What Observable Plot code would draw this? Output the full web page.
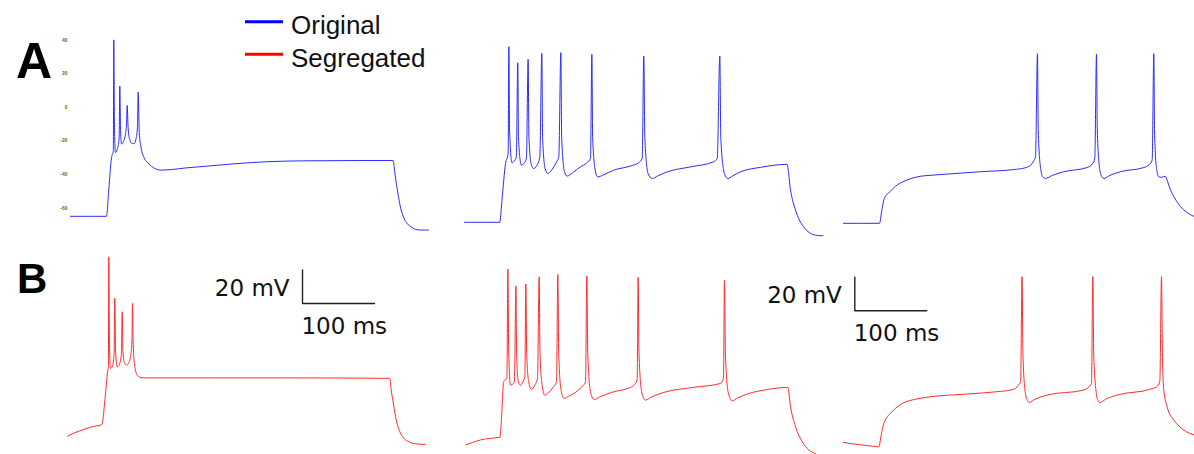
<!DOCTYPE html>
<html>
<head>
<meta charset="utf-8">
<script src="https://cdn.jsdelivr.net/npm/d3@7"></script>
<script src="https://cdn.jsdelivr.net/npm/@observablehq/plot@0.6"></script>
<style>
  body { margin: 0; background: #fff; }
  #fig { position: relative; width: 1194px; height: 454px; overflow: hidden; background: #fff;
         font-family: "Liberation Sans", Arial, sans-serif; }
  .panel { position: absolute; }
  .panel svg { overflow: visible; max-width: none !important; }
  .overlay { position: absolute; left: 0; top: 0; }
</style>
</head>
<body>
<div id="fig"></div>
<script>
// Membrane potential traces, [time (ms), voltage (mV)], 400 ms current step from 50 to 450 ms.
// Row A: original morphology (blue); row B: segregated model (red). Three step amplitudes per row.
const origLow = [[0,-65],[50,-65],[53,-50],[57,-30],[59.5,-26],[60.1,40],[61,-10],[62.5,-27],[65,-25],[67.5,-19],[68.5,12.5],[69.5,-14],[71,-22],[73.6,-20.5],[76,-17],[77.8,-10],[78.7,1],[80,-12],[82,-19],[85,-21.5],[88,-21.8],[91,-19],[93,-12],[94,9],[95.5,-15],[98,-24],[102,-30],[107,-33],[115,-36],[125,-37.5],[140,-37.2],[160,-36.2],[180,-35.5],[226,-33.8],[274,-32.5],[320,-32],[400,-31.8],[448,-31.8],[451,-41],[455,-52],[458,-59],[463,-66],[468,-69.5],[474,-71.5],[479,-72.8],[487,-73.2],[497,-73.2]];

const origMid = [[0,-65],[49,-65],[52,-52],[57,-30],[60.6,-24],[61.6,39.5],[62.6,-10],[66,-29.6],[69,-28.5],[72,-26],[74,30],[75,-15],[79,-31],[83,-29.5],[86,-27],[88.4,32],[89.5,-15],[93,-31],[96,-33],[100,-31.5],[104.6,-26],[107.4,35.5],[108.5,-15],[112,-33],[115.7,-36],[120,-34.5],[124,-32],[128,-29],[131,-26],[133.8,36],[135,-15],[139,-35],[142.6,-37.5],[150,-35.5],[161,-32],[170,-29.5],[175,-27],[176.9,35],[178,-15],[182,-35],[185,-38],[192,-37],[207,-34],[230.6,-31.5],[242,-29.5],[246.8,-27],[249,34],[250.5,-15],[255,-36],[260.7,-39],[268,-37.5],[281.5,-35],[314,-32],[346,-29],[351,-27],[354.6,34],[356,-15],[361,-36],[365.7,-39],[372,-37.5],[383,-35],[411,-32.3],[448,-30.5],[452.8,-45.8],[459.7,-57.7],[465,-63.5],[471,-67.7],[480.6,-71.6],[490,-72.8],[498,-73]];

const origHigh = [[0,-65],[50,-65],[53,-58],[56,-51],[60,-48],[65,-46],[72,-43],[84,-40],[95,-38.2],[107,-37],[125,-36.3],[144,-35.7],[190,-34.3],[236.5,-33],[252,-32],[260,-30.4],[264,-28],[266.7,-25.4],[269.4,36],[270.5,-10],[274,-33],[277,-37.5],[280.5,-38.3],[290,-36.5],[306,-34.3],[338.4,-31.8],[346,-29.5],[349,-26.4],[351.4,35.7],[352.5,-10],[356,-33],[359,-37.5],[361.6,-38.3],[370,-36.5],[384.7,-34.3],[417,-31.8],[425,-30],[428.7,-27.4],[431,36],[432,-10],[435,-33],[438,-37.3],[442,-37.6],[447,-37],[450,-40],[454,-45],[460,-50],[468,-55],[477,-58.5],[487,-61]];

const segLow = [[0,-66.7],[10,-64.7],[22.7,-62.7],[35,-61],[46.8,-60],[48,-59.5],[52,-45],[56,-27.4],[56.8,-25],[57.3,40],[58.2,-10],[59.7,-26.4],[62,-25.5],[64.7,-18],[65.7,15.3],[66.7,-15],[69,-25.4],[71.5,-24.5],[74.8,-18],[76,7.3],[77,-16],[79,-23],[82,-24.4],[85,-23],[87.5,-19.4],[89.5,-10],[90.3,12.3],[91.3,-12],[93,-23.4],[96.8,-30.4],[101,-31.7],[106,-32],[200,-32],[300,-32],[447.6,-32.3],[449.5,-39],[452.5,-47],[455.6,-55],[462.5,-65],[468,-68.3],[474,-70],[485,-71.3],[497,-71.6]];

const segMid = [[0,-66],[10,-64.5],[20.8,-63],[35,-62],[47.7,-61.5],[50,-50],[53,-28.4],[57.5,-26],[58.8,38.7],[60,-10],[62.5,-30.4],[65,-30],[68,-28],[70,28.6],[71,-12],[73.5,-28.5],[76.4,-30.4],[79.5,-28.5],[82.4,-25.4],[83.8,29.8],[85,-12],[88,-29],[91.7,-33],[96,-30.5],[100,-26.4],[102.3,34],[103.5,-12],[107,-32],[110,-36.3],[115,-35],[121,-32],[126.4,-28.4],[128.2,35.5],[129.5,-12],[133,-34],[137,-38.3],[143,-37],[151.8,-35],[160,-32],[166.7,-28.4],[168.5,34.5],[169.8,-12],[174,-35],[178.7,-39],[186,-37.5],[202.8,-34.7],[229,-31.7],[235,-30],[238.4,-27.4],[239.8,33.7],[241,-12],[245,-35],[250,-39.3],[258,-37.5],[275.5,-34.7],[317,-31.7],[354,-29.4],[358.3,-26.4],[359.7,32],[361,-12],[365,-35],[370.4,-39.7],[378,-38],[391.2,-35.7],[419,-33],[447.7,-31.7],[451.4,-43],[458.3,-55],[467.6,-64],[476.8,-69],[486,-71]];

const segHigh = [[0,-62.7],[14,-63.6],[28,-64.3],[40,-65],[49,-65.3],[52.5,-58],[56,-51.4],[60,-48],[65,-45.4],[72,-42.5],[84,-39],[100,-37],[121,-35.5],[167,-34],[213.5,-32.5],[232,-31.5],[239,-30.5],[243,-28.5],[246,-26.6],[248,36],[249.2,-10],[252.5,-33],[255.5,-37.8],[258,-39],[266,-37],[283,-34.5],[333.8,-31.5],[340,-30],[344.4,-27.6],[346.3,36],[347.5,-10],[351,-33],[353.5,-37.8],[356,-39],[364,-37],[380,-34.5],[426.4,-31],[435,-29.5],[439.3,-26.6],[441.7,36],[443,-12],[444.9,-31.5],[449.5,-41.5],[458.8,-49.4],[466,-53],[472.7,-55.4],[487.5,-58.3]];

// Voltage tick values shown beside the first trace
const voltTicks = [40, 20, 0, -20, -40, -60];

// Legend entries and row labels
const seriesNames = ["Original", "Segregated"];
const seriesColors = ["#2b2bff", "#ff2b2b"];
const legendColors = ["#0000ff", "#ff0000"];
const rowLabels = ["A", "B"];

// Scale bar sizes
const barTime = 100;   // ms
const barVolt = 20;    // mV

const fig = document.getElementById("fig");

// Common scales: 0.72 px per ms, 1.68 px per mV
const W = 380, H = 230, M = 10;
const tDomain = [0, 500], vDomain = [-80, 45];

function scaleBar(t0, v0) {
  const bar = [[t0, v0 + barVolt], [t0, v0], [t0 + barTime, v0]];
  const font = {fontSize: 23, fill: "#111", fontFamily: "DejaVu Sans, sans-serif", lineAnchor: "bottom"};
  return [
    Plot.line(bar, {x: d => d[0], y: d => d[1], stroke: "#222", strokeWidth: 1.4}),
    Plot.text([`${barVolt} mV`], {x: t0 - 18, y: v0 + 4.4, text: d => d, textAnchor: "end", ...font}),
    Plot.text([`${barTime} ms`], {x: t0 - 1.5, y: v0 - 18.3, text: d => d, textAnchor: "start", ...font})
  ];
}

function panel(trace, color, left, zeroY, extra = []) {
  const chart = Plot.plot({
    width: W, height: H, margin: M,
    x: {domain: tDomain, axis: null},
    y: {domain: vDomain, axis: null},
    style: {background: "transparent", overflow: "visible", maxWidth: "none",
            fontFamily: "Liberation Sans, Arial, sans-serif"},
    marks: [
      Plot.line(trace, {x: d => d[0], y: d => d[1], stroke: color, strokeWidth: 1, curve: "monotone-x"}),
      ...extra
    ]
  });
  const div = document.createElement("div");
  div.className = "panel";
  div.style.width = `${W}px`;
  div.style.height = `${H}px`;
  div.style.left = `${left - M}px`;
  div.style.top = `${zeroY - vDomain[1] * 1.68 - M}px`;
  div.appendChild(chart);
  fig.appendChild(div);
}

const tickLabels = Plot.text(voltTicks, {x: -4.2, y: d => d, text: d => String(d), textAnchor: "end",
  lineAnchor: "middle", fontSize: 5, fontWeight: "bold", fill: "#8a5a2a"});

panel(origLow,  seriesColors[0], 70,  107, [tickLabels]);
panel(origMid,  seriesColors[0], 464, 113);
panel(origHigh, seriesColors[0], 843, 114);
panel(segLow,   seriesColors[1], 67,  324, scaleBar(326.4, 12.3));
panel(segMid,   seriesColors[1], 465, 334);
panel(segHigh,  seriesColors[1], 843, 337, scaleBar(15.7, 15.7));

// Legend and row labels
const svg = d3.select(fig).append("svg")
  .attr("class", "overlay").attr("width", 1194).attr("height", 454)
  .style("font-family", "Liberation Sans, Arial, sans-serif");

const legendY = [21.7, 54.3];
seriesNames.forEach((name, i) => {
  svg.append("line").attr("x1", 245).attr("x2", 283).attr("y1", legendY[i]).attr("y2", legendY[i])
    .attr("stroke", legendColors[i]).attr("stroke-width", 3);
  svg.append("text").attr("x", 291).attr("y", legendY[i] + 12.6).attr("font-size", 26)
    .attr("fill", "#111").text(name);
});

svg.append("text").attr("x", 16).attr("y", 78.3).attr("font-size", 50).attr("font-weight", "bold")
  .attr("fill", "#000").text(rowLabels[0]);
svg.append("text").attr("x", 17).attr("y", 293.3).attr("font-size", 42).attr("font-weight", "bold")
  .attr("fill", "#000").text(rowLabels[1]);
</script>
</body>
</html>
